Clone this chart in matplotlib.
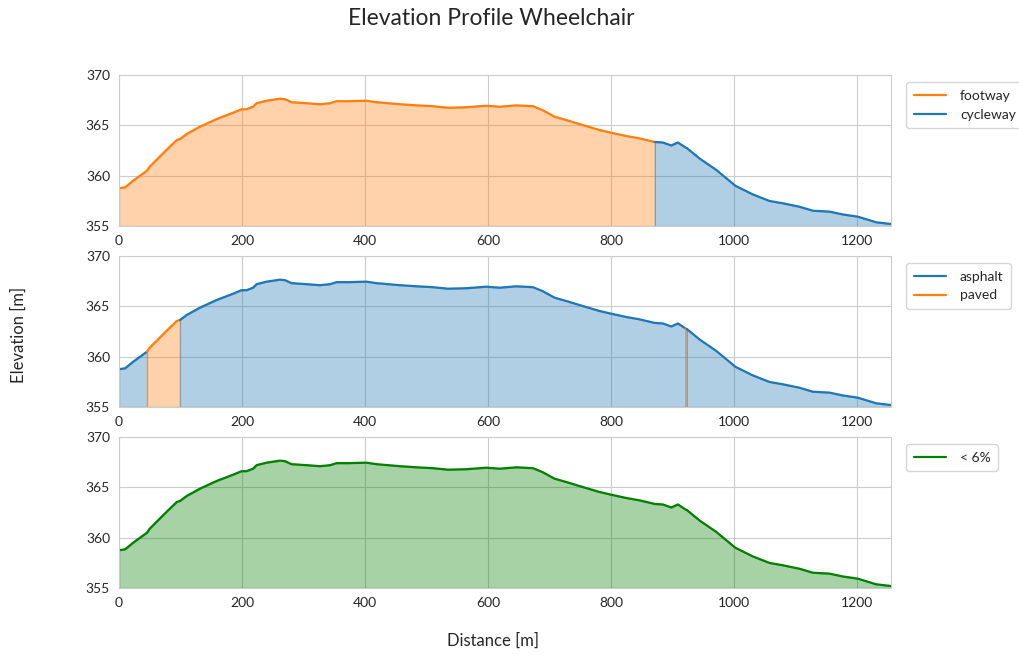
import numpy as np
import matplotlib
matplotlib.use("Agg")
import matplotlib.pyplot as plt
import seaborn as sns

sns.set_style("whitegrid")
plt.rcParams['font.family'] = ['Lato', 'DejaVu Sans']

# Distance [m] and elevation [m] read from the profile
distance = [0, 10, 23, 45.5, 50, 77, 94, 99, 110, 131.6, 158.7, 185.7, 199, 207, 218,
            223.6, 240, 261.5, 269.7, 280.5, 305, 326.5, 343, 353.6, 372.5, 402, 418.6,
            456.5, 483.5, 510.6, 535, 564.8, 597, 619, 646, 673, 689, 708, 727, 754, 781,
            800, 824.7, 846, 871, 884, 897.8, 908.6, 921, 923, 944, 971, 1002, 1030,
            1057.5, 1079, 1106, 1128, 1155, 1176.6, 1201, 1231, 1255]
elevation = [358.75, 358.85, 359.5, 360.5, 360.9, 362.55, 363.55, 363.64, 364.14, 364.87,
             365.63, 366.26, 366.6, 366.6, 366.85, 367.2, 367.45, 367.65, 367.6, 367.3,
             367.2, 367.1, 367.2, 367.4, 367.4, 367.45, 367.3, 367.1, 366.99, 366.9,
             366.75, 366.8, 366.95, 366.85, 366.99, 366.9, 366.5, 365.86, 365.53, 365.03,
             364.54, 364.27, 363.94, 363.71, 363.35, 363.3, 363.0, 363.3, 362.8, 362.75,
             361.7, 360.57, 359.0, 358.15, 357.49, 357.26, 356.92, 356.52, 356.43, 356.15,
             355.93, 355.37, 355.2]

# Segments: (start distance, end distance, category)
way_segments = [(0, 871, "footway"), (871, 1255, "cycleway")]
surface_segments = [(0, 45.5, "asphalt"), (45.5, 99, "paved"), (99, 921, "asphalt"),
                    (921, 923, "paved"), (923, 1255, "asphalt")]
slope_segments = [(0, 1255, "< 6%")]

way_colors = {"footway": "tab:orange", "cycleway": "tab:blue"}
surface_colors = {"asphalt": "tab:blue", "paved": "tab:orange"}
slope_colors = {"< 6%": "green"}

d = np.array(distance)
e = np.array(elevation)

fig = plt.figure(figsize=(10.2, 6.57), dpi=100)
left, right = 0.1167, 0.8735
boxes = [(0.656, 0.8858), (0.3805, 0.6104), (0.105, 0.3349)]
axes = [fig.add_axes([left, b, right - left, t - b]) for b, t in boxes]

def draw(ax, segments, colors, order):
    handles = {}
    for s, t, cat in segments:
        m = (d >= s) & (d <= t)
        c = colors[cat]
        ax.fill_between(d[m], 355, e[m], color=c, alpha=0.35, linewidth=1)
        ln, = ax.plot(d[m], e[m], color=c, lw=1.6)
        handles.setdefault(cat, ln)
    ax.set_xlim(0, 1255)
    ax.set_ylim(355, 370)
    ax.set_yticks([355, 360, 365, 370])
    ax.set_xticks(range(0, 1201, 200))
    ax.tick_params(labelsize=10, colors='#262626', pad=3)
    leg = ax.legend([handles[k] for k in order], order, loc="upper left",
                    bbox_to_anchor=(1.011, 1.0), fontsize=10, frameon=True,
                    handlelength=2.3, handletextpad=1.0, borderpad=0.55)
    leg.get_frame().set_edgecolor('#cccccc')

draw(axes[0], way_segments, way_colors, ["footway", "cycleway"])
draw(axes[1], surface_segments, surface_colors, ["asphalt", "paved"])
draw(axes[2], slope_segments, slope_colors, ["< 6%"])

fig.text(0.482, 0.972, "Elevation Profile Wheelchair", ha="center", va="center",
         fontsize=16.5, color='#262626')
fig.text(0.018, 0.49, "Elevation [m]", rotation=90, ha="center", va="center",
         fontsize=12, color='#262626')
fig.text(0.483, 0.025, "Distance [m]", ha="center", va="center",
         fontsize=12, color='#262626')

fig.savefig("out.png", dpi=100)
